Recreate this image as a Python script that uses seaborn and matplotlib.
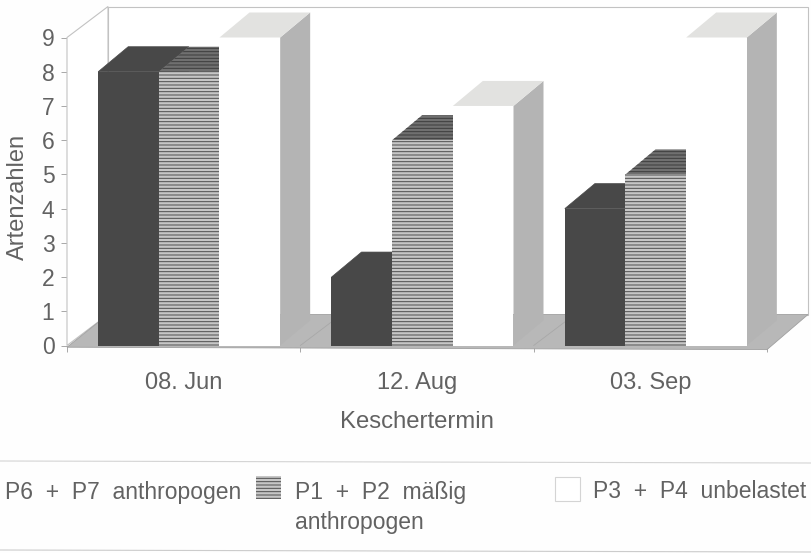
import pandas as pd
import matplotlib
matplotlib.use("Agg")
import matplotlib.pyplot as plt
from matplotlib.patches import Polygon, Rectangle
import seaborn as sns

dates = ["08. Jun", "12. Aug", "03. Sep"]
anthropogen = [8, 2, 4]
maessig = [8, 6, 5]
unbelastet = [9, 7, 9]
series_names = ["P6 + P7 anthropogen", "P1 + P2 mäßig\nanthropogen", "P3 + P4 unbelastet"]
y_ticks = [0, 1, 2, 3, 4, 5, 6, 7, 8, 9]

GREY_TEXT = "#626262"
LINE = "#c2c2c2"
PAPER = "#fefefe"
W, H = 812, 553

sns.set_theme(style="white")
plt.rcParams["font.family"] = ["Liberation Sans", "DejaVu Sans"]
plt.rcParams["hatch.linewidth"] = 0.7

df = pd.DataFrame({
    "Keschertermin": dates * 3,
    "Artenzahlen": anthropogen + maessig + unbelastet,
    "Reihe": [series_names[0]] * 3 + [series_names[1]] * 3 + [series_names[2]] * 3,
})

fig = plt.figure(figsize=(W / 100, H / 100), dpi=100, facecolor=PAPER)
ax = fig.add_axes([67 / W, 1 - 345.5 / H, 700 / W, 308 / H], facecolor="none")

sns.barplot(data=df, x="Keschertermin", y="Artenzahlen", hue="Reihe", ax=ax,
            palette=["#484848", "#c6c6c6", "#ffffff"], width=0.78, gap=0,
            saturation=1, legend=False, linewidth=0)
bars = list(ax.patches)

# die Saeulen sitzen im Original etwas rechts der Gruppenmitte
shift = 5.5 / (700 / 3)
ax.set_xlim(-0.5 - shift, 2.5 - shift)
ax.set_ylim(0, 9)
sns.despine(ax=ax, left=True, bottom=True)

# Tiefe der Saeulen und der Wand in Dateneinheiten
bar_dx, bar_dy = 30 / (700 / 3), 25 / (308 / 9)
wall_dx, wall_dy = 41 / (700 / 3), 31 / (308 / 9)

x0, x1 = ax.get_xlim()
y0, y1 = ax.get_ylim()

def poly(points, face, z, edge="none", lw=0.0, hatch=None):
    ax.add_patch(Polygon(points, closed=True, facecolor=face, edgecolor=edge,
                         linewidth=lw, hatch=hatch, zorder=z, clip_on=False))

# Rueckwand und Boden
poly([(x0 + wall_dx, y0 + wall_dy), (x1 + wall_dx, y0 + wall_dy),
      (x1 + wall_dx, y1 + wall_dy), (x0 + wall_dx, y1 + wall_dy)], "#ffffff", 0.5, LINE, 0.8)
poly([(x0, y0), (x0 + wall_dx, y0 + wall_dy), (x0 + wall_dx, y1 + wall_dy), (x0, y1)],
     "#ffffff", 0.6, LINE, 0.8)
poly([(x0, y0 - 0.05), (x1, y0 - 0.12), (x1 + wall_dx, y0 + wall_dy), (x0 + wall_dx, y0 + wall_dy)],
     "#b8b8b8", 0.7, "#a0a0a0", 0.6)
for pos in [x0 + 1, x0 + 2]:
    ax.plot([pos, pos + wall_dx], [y0, y0 + wall_dy], color="#a8a8a8", lw=0.6, zorder=0.8)

# Saeulen mit Ober- und Seitenflaeche
top_faces = ["#484848", "#707070", "#e2e2e0"]
top_hatch = [None, "-----", None]
top_edges = ["#484848", "#3c3c3c", "none"]
for i, bar in enumerate(bars):
    series = i // len(dates)
    left, width, height = bar.get_x(), bar.get_width(), bar.get_height()
    right = left + width
    z = 2 + 2 * series
    if series == 1:
        bar.set_edgecolor("#4e4e4e")
        bar.set_hatch("-----")
    bar.set_zorder(z + 1)
    poly([(right, 0), (right + bar_dx, bar_dy), (right + bar_dx, height + bar_dy), (right, height)],
         "#b4b4b4", z)
    poly([(left, height), (right, height), (right + bar_dx, height + bar_dy), (left + bar_dx, height + bar_dy)],
         top_faces[series], z, edge=top_edges[series],
         lw=0.5 if series == 0 else 0, hatch=top_hatch[series])

# Achsen
ax.set_yticks(y_ticks)
ax.set_xticks([x0, x0 + 1, x0 + 2, x1])
ax.set_xticklabels([])
ax.set_xticks([x0 + 0.5, x0 + 1.5, x0 + 2.5], labels=dates, minor=True)
ax.tick_params(axis="y", which="major", left=True, length=4, width=0.7, color="#a8a8a8",
               labelsize=16.5, labelcolor=GREY_TEXT, pad=5)
ax.tick_params(axis="x", which="major", bottom=True, length=4, width=0.7, color="#a8a8a8")
ax.tick_params(axis="x", which="minor", bottom=False, labelsize=17, labelcolor=GREY_TEXT, pad=15)
ax.set_xlabel("Keschertermin", fontsize=17.2, color=GREY_TEXT, labelpad=12)
ax.set_ylabel("Artenzahlen", fontsize=17, color=GREY_TEXT)
ax.yaxis.set_label_coords(-38 / 700, 0.482)

# Legende
fig.add_artist(plt.Line2D([0, 1], [1 - 461 / H, 1 - 463 / H], color="#d4d4d4", lw=0.8))
fig.add_artist(plt.Line2D([0, 1], [1 - 550 / H, 1 - 552 / H], color="#cccccc", lw=0.8))
fig.add_artist(Rectangle((256 / W, 1 - 499 / H), 25 / W, 23 / H, transform=fig.transFigure,
                         facecolor="#c6c6c6", edgecolor="#4e4e4e", linewidth=0, hatch="-----"))
fig.add_artist(Rectangle((555 / W, 1 - 501 / H), 25 / W, 24 / H, transform=fig.transFigure,
                         facecolor="#ffffff", edgecolor="#d4d4d4", linewidth=0.8))
legend_kw = dict(fontsize=16.5, color=GREY_TEXT, va="center", ha="left")
fig.text(241 / W, 1 - 492 / H, "P6  +  P7  anthropogen", fontsize=16.5, color=GREY_TEXT, va="center", ha="right")
fig.text(295 / W, 1 - 492 / H, "P1  +  P2  mäßig", **legend_kw)
fig.text(295 / W, 1 - 523 / H, "anthropogen", **legend_kw)
fig.text(593 / W, 1 - 492 / H, "P3  +  P4  unbelastet", **legend_kw)

fig.savefig("out.png", dpi=100, facecolor=PAPER)
